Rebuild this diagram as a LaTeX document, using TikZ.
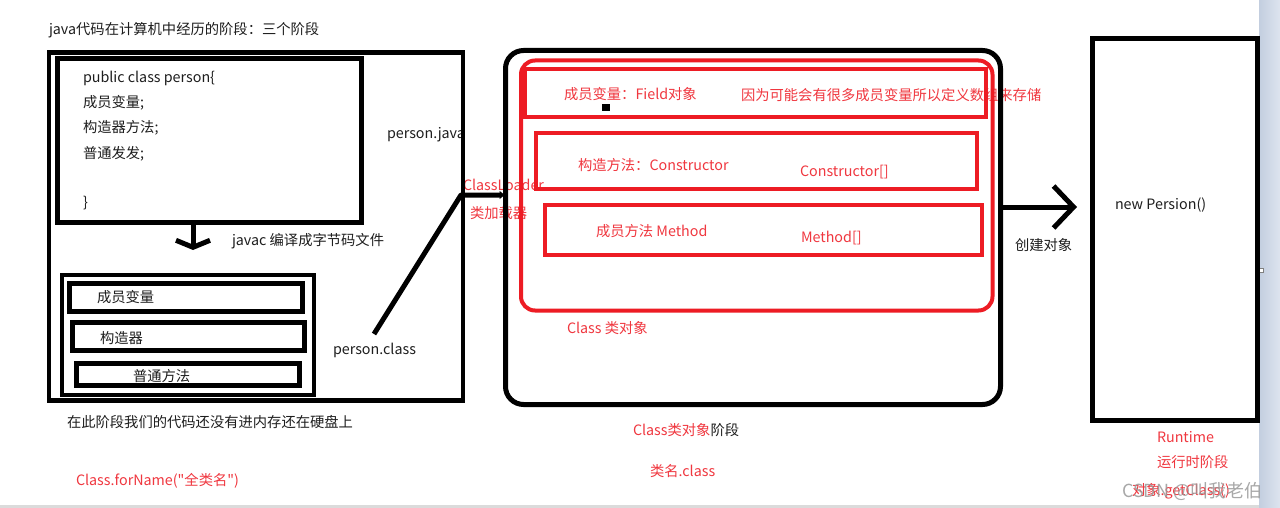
\documentclass[tikz,border=0pt]{standalone}
\usepackage{fontspec}
\newfontfamily\cjk{Noto Sans CJK SC}
\usetikzlibrary{arrows.meta}
\definecolor{pred}{HTML}{ED1C24}
\definecolor{tred}{HTML}{F0373F}
\definecolor{tblk}{HTML}{1E1E1E}
\definecolor{stripA}{HTML}{C3CEDF}
\definecolor{stripB}{HTML}{DDE4EF}
\begin{document}
\begin{tikzpicture}[x=1pt,y=-1pt,
  box/.style={draw=black, line width=#1, inner sep=0pt, outer sep=0pt},
  rbox/.style={draw=pred, line width=#1, inner sep=0pt, outer sep=0pt},
  t/.style={anchor=base west, inner sep=0pt, outer sep=0pt, text=tblk, font=\cjk\fontsize{14.3}{17}\selectfont},
  rt/.style={t, text=tred},
  conn/.style={draw=black, line width=5pt, line cap=round, line join=round}]
\useasboundingbox (0,0) rectangle (1280,508);
\fill[white] (0,0) rectangle (1280,508);
\shade[left color=stripA, right color=stripB] (1259,0) rectangle (1280,508);
\fill[black!14] (0,505) rectangle (1259,508);
\filldraw[fill=white, draw=black!50, line width=0.6pt] (1259,268) rectangle (1263,272);

% texts
\node[t] (title) at (49,35) {java代码在计算机中经历的阶段：三个阶段};
\node[t] (c1) at (83,83) {public class person\{};
\node[t] (c2) at (83,108) {成员变量;};
\node[t] (c3) at (83,133) {构造器方法;};
\node[t] (c4) at (83,158) {普通发发;};
\node[t] (c5) at (83,207) {\}};
\node[t] (javac) at (232,245) {javac 编译成字节码文件};
\node[t] (pjava) at (387,139) {person.java};
\node[t] (s1t) at (97,302) {成员变量};
\node[t] (s2t) at (100,343) {构造器};
\node[t] (s3t) at (133,381) {普通方法};
\node[t] (pclass) at (333,354) {person.class};
\node[t] (disk) at (67,427) {在此阶段我们的代码还没有进内存还在硬盘上};
\node[rt] (forname) at (76,485) {Class.forName("全类名")};
\node[rt] (loader) at (463,190) {ClassLoader};
\node[rt] (loadercn) at (470,218) {类加载器};
\node[rt] (field) at (564,100) {成员变量：Field对象};
\node[rt] (fieldnote) at (741,101) {因为可能会有很多成员变量所以定义数组来存储};
\node[rt] (ctor) at (578,171) {构造方法：Constructor};
\node[rt] (ctorarr) at (800,177) {Constructor[]};
\node[rt] (meth) at (596,236) {成员方法 Method};
\node[rt] (metharr) at (801,242) {Method[]};
\node[rt] (clsobj) at (567,333) {Class 类对象};
\node[t] (stage2) at (633,435) {\textcolor{tred}{Class类对象}阶段};
\node[rt] (clsname) at (650,476) {类名.class};
\node[t] (create) at (1015,250) {创建对象};
\node[t] (newp) at (1115,209) {new Persion()};
\node[rt] (rt1) at (1157,442) {Runtime};
\node[rt] (rt2) at (1157,467) {运行时阶段};
\node[rt] (rt3) at (1132,495) {对象.getClass()};

% stage 1 boxes
\node[box=4.5pt, minimum width=414pt, minimum height=348pt] (stage1) at (256,226.5) {};
\node[box=5pt, minimum width=304pt, minimum height=164pt] (code) at (209.5,140.5) {};
\node[box=4pt, minimum width=252pt, minimum height=120pt] (lower) at (188,335) {};
\node[box=5pt, minimum width=233pt, minimum height=28pt] (sub1) at (185.5,297) {};
\node[box=5pt, minimum width=232pt, minimum height=28pt] (sub2) at (188,336) {};
\node[box=5pt, minimum width=223.5pt, minimum height=22pt] (sub3) at (187.75,374) {};

% stage 2 boxes
\node[box=5pt, rounded corners=18pt, minimum width=495pt, minimum height=354pt] (classbox) at (753,227.5) {};
\node[rbox=4pt, rounded corners=14pt, minimum width=471.5pt, minimum height=250pt] (redouter) at (756.75,185.5) {};
\node[rbox=4pt, minimum width=461pt, minimum height=48pt] (redtop) at (755.5,93) {};
\node[rbox=4pt, minimum width=440.5pt, minimum height=56pt] (redctor) at (756.25,161) {};
\node[rbox=4pt, minimum width=437pt, minimum height=50pt] (redmeth) at (763.5,230) {};
\fill[black] (602,104) rectangle (610,111);

% stage 3 box
\node[box=5pt, minimum width=165.5pt, minimum height=381pt] (runtime) at (1174.75,229.5) {};

% connectors
\coordinate (dtip) at (193,250);
\draw[conn, -{Straight Barb[length=7pt,width=34pt]}] (code.south -| dtip) -- (dtip);
\coordinate (dstart) at (374,334);
\coordinate (bend) at (461,195);
\draw[conn, line cap=butt, -{Latex[length=6pt,width=9pt]}] (dstart) -- (bend) -- (bend -| classbox.west);
\coordinate (ctip) at (1077,207);
\draw[conn, -{Straight Barb[length=20pt,width=42pt]}] (classbox.east |- ctip) -- (ctip);

% watermark
\node[anchor=base west, inner sep=0pt, text=black!40, opacity=0.85, font=\cjk\fontsize{18}{20}\selectfont] (wm) at (1122,497) {CSDN @叫我老伯};
\end{tikzpicture}
\end{document}
